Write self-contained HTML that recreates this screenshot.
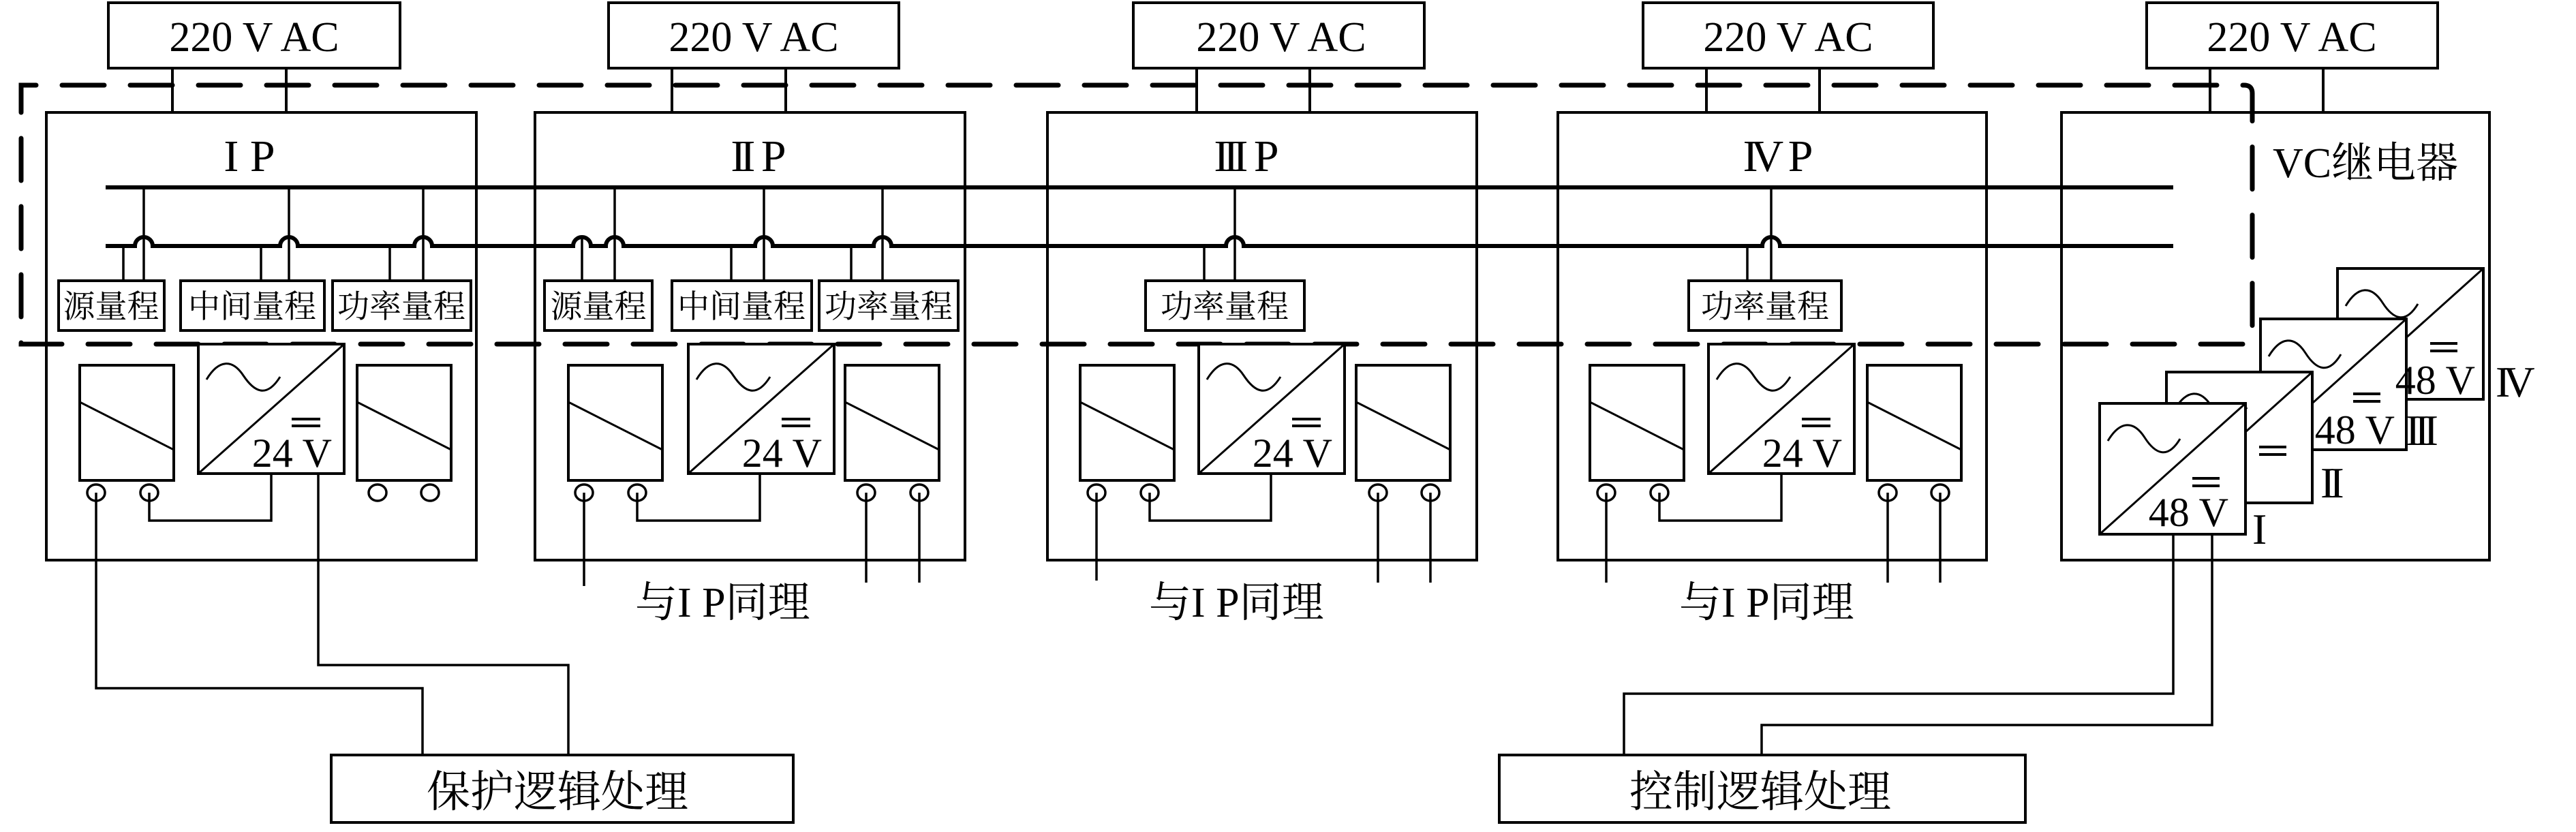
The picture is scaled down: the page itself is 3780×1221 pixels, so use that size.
<!DOCTYPE html>
<html><head><meta charset="utf-8"><style>
html,body{margin:0;padding:0;background:#fff;}
svg{display:block;}
.s{font-family:"Liberation Serif","Noto Serif CJK SC",serif;}
.c{font-family:"Liberation Serif","Noto Serif CJK SC","Noto Sans CJK SC",serif;}
</style></head><body>
<svg width="3780" height="1221" viewBox="0 0 3780 1221" xmlns="http://www.w3.org/2000/svg">
<defs>
<g id="mid" fill="none" stroke="#000">
 <rect x="0" y="0" width="214" height="190" stroke-width="4" fill="#fff"/>
 <line x1="0" y1="190" x2="214" y2="0" stroke-width="3"/>
 <path d="M12 52 C30 22,50 22,66 46 S100 80,120 48" stroke-width="3"/>
 <line x1="137" y1="110" x2="179" y2="110" stroke-width="4"/>
 <line x1="137" y1="120" x2="179" y2="120" stroke-width="4"/>
</g>
<g id="side" fill="none" stroke="#000">
 <rect x="0" y="0" width="138" height="169" stroke-width="4"/>
 <line x1="0" y1="54" x2="138" y2="124" stroke-width="3"/>
</g>
<g id="vc" fill="none" stroke="#000">
 <rect x="0" y="0" width="214" height="192" stroke-width="4" fill="#fff"/>
 <line x1="0" y1="192" x2="214" y2="0" stroke-width="3"/>
 <path d="M12 55 C30 25,50 25,66 50 S100 82,118 52" stroke-width="3"/>
 <line x1="136" y1="110" x2="176" y2="110" stroke-width="4"/>
 <line x1="136" y1="121" x2="176" y2="121" stroke-width="4"/>
</g>
</defs>

<!-- dashed boundary -->
<path d="M3291 505 H31 V125 H3293 Q3305 125 3305 137 V490" fill="none" stroke="#000" stroke-width="7" stroke-dasharray="62 38" stroke-linecap="round"/>

<g fill="none" stroke="#000" stroke-width="4">
 <!-- 220V boxes -->
 <rect x="159" y="4" width="428" height="96"/>
 <rect x="893" y="4" width="426" height="96"/>
 <rect x="1663" y="4" width="427" height="96"/>
 <rect x="2411" y="4" width="426" height="96"/>
 <rect x="3150" y="4" width="427" height="96"/>
 <!-- supply wires -->
 <path d="M253 100V165M420 100V165M986 100V165M1153 100V165M1756 100V165M1922 100V165M2504 100V165M2670 100V165M3243 100V165M3409 100V165"/>
 <!-- panels -->
 <rect x="68" y="165" width="631" height="657"/>
 <rect x="785" y="165" width="631" height="657"/>
 <rect x="1537" y="165" width="630" height="657"/>
 <rect x="2286" y="165" width="629" height="657"/>
 <rect x="3025" y="165" width="628" height="657"/>
 <!-- small boxes -->
 <rect x="86" y="412" width="155" height="73"/>
 <rect x="265" y="412" width="211" height="73"/>
 <rect x="488" y="412" width="203" height="73"/>
 <rect x="799" y="412" width="158" height="73"/>
 <rect x="986" y="412" width="205" height="73"/>
 <rect x="1202" y="412" width="204" height="73"/>
 <rect x="1681" y="412" width="233" height="73"/>
 <rect x="2478" y="412" width="224" height="73"/>
 <!-- protection/control boxes -->
 <rect x="486" y="1108" width="678" height="99"/>
 <rect x="2200" y="1108" width="772" height="99"/>
</g>

<!-- buses -->
<g fill="none" stroke="#000" stroke-width="6">
 <line x1="155" y1="275" x2="3189" y2="275"/>
 <path d="M155 361 H198 A13 13 0 0 1 224 361 H411 A13 13 0 0 1 437 361 H608 A13 13 0 0 1 634 361 H841 A13 13 0 0 1 867 361 H889 A13 13 0 0 1 915 361 H1108 A13 13 0 0 1 1134 361 H1282 A13 13 0 0 1 1308 361 H1799 A13 13 0 0 1 1825 361 H2586 A13 13 0 0 1 2612 361 H3189"/>
</g>
<!-- drops -->
<g stroke="#000" stroke-width="3.5" fill="none">
 <path d="M211 275V412M424 275V412M621 275V412M902 275V412M1121 275V412M1295 275V412M1812 275V412M2599 275V412"/>
 <path d="M181 361V412M383 361V412M572 361V412M854 348V412M1073 361V412M1249 361V412M1767 361V412M2564 361V412"/>
</g>

<!-- converters -->
<use href="#side" x="117" y="536"/><use href="#mid" x="291" y="505"/><use href="#side" x="524" y="536"/>
<use href="#side" x="834" y="536"/><use href="#mid" x="1010" y="505"/><use href="#side" x="1240" y="536"/>
<use href="#side" x="1585" y="536"/><use href="#mid" x="1759" y="505"/><use href="#side" x="1990" y="536"/>
<use href="#side" x="2333" y="536"/><use href="#mid" x="2507" y="505"/><use href="#side" x="2740" y="536"/>

<!-- terminals -->
<g fill="#fff" stroke="#000" stroke-width="3.5">
 <ellipse cx="141" cy="723" rx="13" ry="12"/><ellipse cx="219" cy="723" rx="13" ry="12"/><ellipse cx="554" cy="723" rx="13" ry="12"/><ellipse cx="631" cy="723" rx="13" ry="12"/>
 <ellipse cx="857" cy="723" rx="13" ry="12"/><ellipse cx="935" cy="723" rx="13" ry="12"/><ellipse cx="1271" cy="723" rx="13" ry="12"/><ellipse cx="1349" cy="723" rx="13" ry="12"/>
 <ellipse cx="1609" cy="723" rx="13" ry="12"/><ellipse cx="1687" cy="723" rx="13" ry="12"/><ellipse cx="2022" cy="723" rx="13" ry="12"/><ellipse cx="2099" cy="723" rx="13" ry="12"/>
 <ellipse cx="2357" cy="723" rx="13" ry="12"/><ellipse cx="2435" cy="723" rx="13" ry="12"/><ellipse cx="2770" cy="723" rx="13" ry="12"/><ellipse cx="2847" cy="723" rx="13" ry="12"/>
</g>
<!-- wires -->
<g fill="none" stroke="#000" stroke-width="3.5">
 <path d="M141 723V1010H620V1108"/>
 <path d="M219 723V764H398V695"/>
 <path d="M467 695V976H834V1108"/>
 <path d="M857 723V860"/>
 <path d="M935 723V764H1115V695"/>
 <path d="M1271 723V855M1349 723V855"/>
 <path d="M1609 723V852"/>
 <path d="M1687 723V764H1865V695"/>
 <path d="M2022 723V855M2099 723V855"/>
 <path d="M2357 723V855"/>
 <path d="M2435 723V764H2614V695"/>
 <path d="M2770 723V855M2847 723V855"/>
 <path d="M3189 784V1018H2383V1108"/>
 <path d="M3246 784V1064H2585V1108"/>
</g>

<!-- VC converters -->
<use href="#vc" x="3430" y="394"/>
<use href="#vc" x="3317" y="468"/>
<use href="#vc" x="3179" y="546"/>
<use href="#vc" x="3081" y="592"/>

<!-- texts -->
<g class="s" font-size="62" fill="#000" text-anchor="middle">
 <text x="373" y="75">220 V AC</text>
 <text x="1106" y="75">220 V AC</text>
 <text x="1880" y="75">220 V AC</text>
 <text x="2624" y="75">220 V AC</text>
 <text x="3363" y="75">220 V AC</text>
</g>
<g class="s" font-size="66" fill="#000" text-anchor="middle">
 <text x="366" y="251">I P</text>
 <text x="1113" y="251"><tspan letter-spacing="-8">II</tspan> P</text>
 <text x="1829" y="251"><tspan letter-spacing="-8">III</tspan> P</text>
 <text x="2609" y="251"><tspan letter-spacing="-10">IV</tspan> P</text>
</g>
<g class="c" font-size="47" fill="#000" text-anchor="middle">
 <text x="163" y="466">源量程</text>
 <text x="370" y="466">中间量程</text>
 <text x="589" y="466">功率量程</text>
 <text x="878" y="466">源量程</text>
 <text x="1088" y="466">中间量程</text>
 <text x="1304" y="466">功率量程</text>
 <text x="1797" y="466">功率量程</text>
 <text x="2590" y="466">功率量程</text>
</g>
<g class="s" font-size="60" fill="#000" text-anchor="end">
 <text x="487" y="685">24 V</text>
 <text x="1206" y="685">24 V</text>
 <text x="1955" y="685">24 V</text>
 <text x="2703" y="685">24 V</text>
 <text x="3632" y="578">48 V</text>
 <text x="3514" y="651">48 V</text>
 <text x="3270" y="772">48 V</text>
</g>
<g class="s" font-size="64" fill="#000">
 <text x="3305" y="798">I</text>
 <text x="3405" y="730" letter-spacing="-8">II</text>
 <text x="3530" y="653" letter-spacing="-8">III</text>
 <text x="3662" y="582" letter-spacing="-10">IV</text>
</g>
<g class="c" font-size="62" fill="#000">
 <text x="3335" y="260">VC继电器</text>
 <text x="932" y="905">与I P同理</text>
 <text x="1686" y="905">与I P同理</text>
 <text x="2464" y="905">与I P同理</text>
</g>
<g class="c" font-size="64" fill="#000" text-anchor="middle">
 <text x="818" y="1184">保护逻辑处理</text>
 <text x="2583" y="1184">控制逻辑处理</text>
</g>
</svg>
</body></html>
